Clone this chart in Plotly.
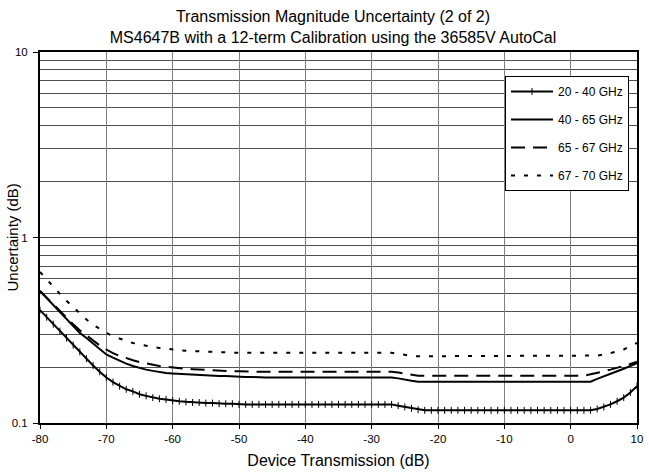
import plotly.graph_objects as go

x_db = list(range(-80, 11))

u_20_40 = [0.406, 0.372, 0.341, 0.313, 0.287, 0.263, 0.242, 0.222, 0.204, 0.189,
           0.176, 0.166, 0.158, 0.152, 0.148, 0.143, 0.140, 0.137, 0.135, 0.134,
           0.132, 0.131, 0.130, 0.129, 0.129, 0.128, 0.128, 0.127, 0.127, 0.127,
           0.126, 0.126, 0.126, 0.126, 0.126, 0.126, 0.126, 0.126, 0.126, 0.126,
           0.126, 0.126, 0.126, 0.126, 0.126, 0.126, 0.126, 0.126, 0.126, 0.126,
           0.126, 0.126, 0.126, 0.126, 0.124, 0.122, 0.120, 0.118, 0.117, 0.117,
           0.117, 0.117, 0.117, 0.117, 0.117, 0.117, 0.117, 0.117, 0.117, 0.117,
           0.117, 0.117, 0.117, 0.117, 0.117, 0.117, 0.117, 0.117, 0.117, 0.117,
           0.117, 0.117, 0.117, 0.117, 0.119, 0.122, 0.126, 0.131, 0.137, 0.146,
           0.158]

u_40_65 = [0.515, 0.472, 0.433, 0.397, 0.364, 0.334, 0.306, 0.287, 0.268, 0.250,
           0.234, 0.225, 0.216, 0.209, 0.203, 0.198, 0.194, 0.191, 0.188, 0.186,
           0.185, 0.184, 0.183, 0.182, 0.181, 0.180, 0.180, 0.179, 0.179, 0.178,
           0.178, 0.177, 0.177, 0.176, 0.176, 0.176, 0.176, 0.176, 0.176, 0.176,
           0.176, 0.176, 0.176, 0.176, 0.176, 0.176, 0.176, 0.176, 0.176, 0.176,
           0.176, 0.176, 0.176, 0.176, 0.174, 0.171, 0.169, 0.167, 0.167, 0.167,
           0.167, 0.167, 0.167, 0.167, 0.167, 0.167, 0.167, 0.167, 0.167, 0.167,
           0.167, 0.167, 0.167, 0.167, 0.167, 0.167, 0.167, 0.167, 0.167, 0.167,
           0.167, 0.167, 0.167, 0.167, 0.173, 0.178, 0.184, 0.190, 0.196, 0.203,
           0.210]

u_65_67 = [0.515, 0.473, 0.435, 0.400, 0.369, 0.341, 0.316, 0.296, 0.278, 0.262,
           0.249, 0.238, 0.230, 0.223, 0.218, 0.213, 0.209, 0.206, 0.203, 0.201,
           0.199, 0.197, 0.196, 0.195, 0.194, 0.193, 0.192, 0.191, 0.191, 0.190,
           0.190, 0.189, 0.189, 0.189, 0.189, 0.189, 0.189, 0.189, 0.189, 0.189,
           0.189, 0.189, 0.189, 0.189, 0.189, 0.189, 0.189, 0.189, 0.189, 0.189,
           0.189, 0.189, 0.189, 0.189, 0.187, 0.185, 0.182, 0.180, 0.180, 0.180,
           0.180, 0.180, 0.180, 0.180, 0.180, 0.180, 0.180, 0.180, 0.180, 0.180,
           0.180, 0.180, 0.180, 0.180, 0.180, 0.180, 0.180, 0.180, 0.180, 0.180,
           0.180, 0.180, 0.180, 0.183, 0.186, 0.190, 0.194, 0.198, 0.203, 0.208,
           0.214]

u_67_70 = [0.652, 0.594, 0.542, 0.497, 0.456, 0.420, 0.389, 0.361, 0.339, 0.321,
           0.306, 0.294, 0.284, 0.277, 0.270, 0.265, 0.261, 0.257, 0.254, 0.251,
           0.249, 0.247, 0.245, 0.244, 0.243, 0.242, 0.241, 0.240, 0.239, 0.239,
           0.239, 0.239, 0.239, 0.239, 0.239, 0.239, 0.239, 0.239, 0.239, 0.239,
           0.239, 0.239, 0.239, 0.239, 0.239, 0.239, 0.239, 0.239, 0.239, 0.239,
           0.239, 0.239, 0.239, 0.239, 0.236, 0.232, 0.230, 0.229, 0.229, 0.229,
           0.229, 0.229, 0.229, 0.229, 0.229, 0.229, 0.229, 0.229, 0.229, 0.229,
           0.229, 0.229, 0.229, 0.229, 0.229, 0.229, 0.229, 0.229, 0.229, 0.229,
           0.229, 0.229, 0.229, 0.229, 0.231, 0.234, 0.238, 0.243, 0.249, 0.258,
           0.270]

series_names = ["20 - 40 GHz", "40 - 65 GHz", "65 - 67 GHz", "67 - 70 GHz"]
x_ticks = [-80, -70, -60, -50, -40, -30, -20, -10, 0, 10]
y_major = [0.1, 1, 10]
y_major_labels = ["0.1", "1", "10"]
y_minor = [0.2, 0.3, 0.4, 0.5, 0.6, 0.7, 0.8, 0.9, 2, 3, 4, 5, 6, 7, 8, 9]

FONT = "Arial, Liberation Sans, sans-serif"

W, H = 649, 473
L, R, T, B = 40, 12, 52, 50
PW = W - L - R
PH = H - T - B

fig = go.Figure()
fig.add_trace(go.Scatter(
    x=x_db, y=u_20_40, name=series_names[0], mode="lines+markers",
    line=dict(color="black", width=2),
    marker=dict(symbol="line-ns-open", size=5, color="black",
                line=dict(color="black", width=1)),
    legendgroup="a"))
fig.add_trace(go.Scatter(
    x=x_db, y=u_40_65, name=series_names[1], mode="lines",
    line=dict(color="black", width=2), legendgroup="b"))
fig.add_trace(go.Scatter(
    x=x_db, y=u_65_67, name=series_names[2], mode="lines",
    line=dict(color="black", width=2, dash="14px,8px"), legendgroup="c"))
fig.add_trace(go.Scatter(
    x=x_db, y=u_67_70, name=series_names[3], mode="lines",
    line=dict(color="black", width=2, dash="4px,9px"), legendgroup="d"))

fig.update_layout(
    width=W, height=H,
    margin=dict(l=L, r=R, t=T, b=B, autoexpand=False),
    paper_bgcolor="white", plot_bgcolor="white",
    font=dict(family=FONT, color="black", size=11.5),
    title=dict(
        text="Transmission Magnitude Uncertainty (2 of 2)<br>MS4647B with a 12-term Calibration using the 36585V AutoCal",
        x=333 / W, xanchor="center", yref="container", y=1 - 22 / H, yanchor="top",
        font=dict(family=FONT, size=16, color="black")),
    showlegend=True,
    legend=dict(
        x=(505 - L) / PW, xanchor="left", y=(423 - 76) / PH, yanchor="top",
        bgcolor="white", bordercolor="black", borderwidth=1,
        font=dict(family=FONT, size=12, color="black"),
        tracegroupgap=9, traceorder="grouped",
        itemwidth=42),
    xaxis=dict(
        range=[-80, 10], tickvals=x_ticks, ticktext=[str(v) for v in x_ticks],
        showgrid=True, gridcolor="#808080", gridwidth=1,
        showline=True, linecolor="black", linewidth=2, mirror=True,
        ticks="outside", ticklen=4, tickcolor="black",
        zeroline=False, automargin=False,
        title=dict(text="Device Transmission (dB)", font=dict(size=16), standoff=11),
        tickfont=dict(size=11.5)),
    yaxis=dict(
        type="log", range=[-1, 1], tickvals=y_major, ticktext=y_major_labels,
        showgrid=True, gridcolor="#404040", gridwidth=1,
        showline=True, linecolor="black", linewidth=2, mirror=True,
        ticks="outside", ticklen=5, tickcolor="black", ticklabelstandoff=3,
        zeroline=False, automargin=False,
        minor=dict(tickvals=y_minor, showgrid=True, gridcolor="#505050",
                   gridwidth=1, ticks=""),
        tickfont=dict(size=11.5)),
    annotations=[dict(
        text="Uncertainty (dB)", textangle=-90, showarrow=False,
        xref="paper", yref="paper", x=(12 - L) / PW, y=0.5,
        xanchor="center", yanchor="middle",
        font=dict(family=FONT, size=15, color="black"))],
)

fig.write_html("out.html", config={"displayModeBar": False},
               post_script="document.body.style.margin='0px';")
